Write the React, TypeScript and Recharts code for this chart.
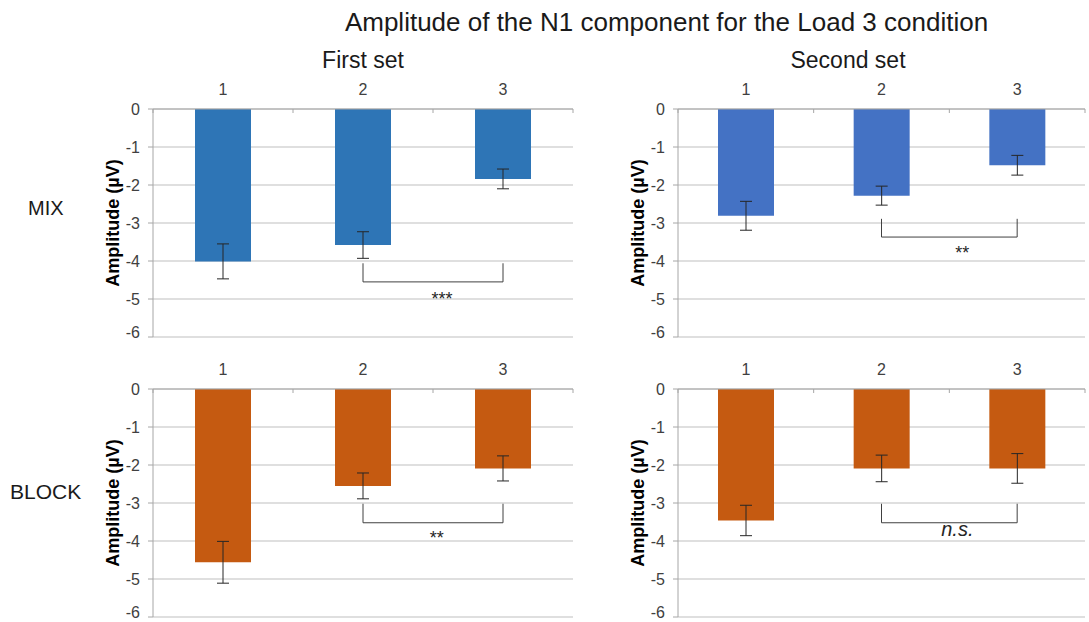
import React from "react";
import {
  BarChart,
  Bar,
  XAxis,
  YAxis,
  CartesianGrid,
  ErrorBar,
  ReferenceLine,
  ReferenceDot,
} from "recharts";

const categories = ["1", "2", "3"];
const yTicks = [0, -1, -2, -3, -4, -5, -6];

const mixFirst = [-4.01, -3.58, -1.84];
const mixFirstErr = [0.46, 0.35, 0.26];
const mixSecond = [-2.81, -2.28, -1.48];
const mixSecondErr = [0.38, 0.25, 0.26];
const blockFirst = [-4.56, -2.55, -2.09];
const blockFirstErr = [0.55, 0.34, 0.33];
const blockSecond = [-3.46, -2.09, -2.09];
const blockSecondErr = [0.4, 0.35, 0.39];

// significance brackets: compared categories, bracket ends (µV), label and where it sits
const mixFirstSig = { from: "2", to: "3", top: -4.06, bottom: -4.55, text: "***", textX: 2.064, textY: -5.0 };
const mixSecondSig = { from: "2", to: "3", top: -2.89, bottom: -3.37, text: "**", textX: 2.096, textY: -3.77 };
const blockFirstSig = { from: "2", to: "3", top: -3.02, bottom: -3.52, text: "**", textX: 2.026, textY: -3.92 };
const blockSecondSig = { from: "2", to: "3", top: -3.02, bottom: -3.52, text: "n.s.", textX: 2.059, textY: -3.68 };

const FONT = '"Liberation Sans", Arial, sans-serif';
const GRID = "#bfbfbf";
const AXIS = "#a6a6a6";

type Sig = typeof mixFirstSig;

const NoLabel = () => <g />;

function Panel({
  values,
  errors,
  color,
  sig,
  left,
  top,
  width,
}: {
  values: number[];
  errors: number[];
  color: string;
  sig: Sig;
  left: number;
  top: number;
  width: number;
}) {
  // pos = numeric centre of each category, used by the boundary tick axis
  const rows = categories.map((c, i) => ({ cat: c, pos: i + 0.5, value: values[i], err: errors[i] }));
  const italic = sig.text === "n.s.";
  return (
    <div style={{ position: "absolute", left, top }}>
      <BarChart width={width} height={266} data={rows} margin={{ top: 4, right: 4, bottom: 4, left: 0 }}>
        <CartesianGrid xAxisId="a" vertical={false} stroke={GRID} />
        <XAxis
          xAxisId="a"
          dataKey="cat"
          orientation="top"
          height={30}
          axisLine={{ stroke: AXIS }}
          tickLine={false}
          tickSize={0}
          tickMargin={14}
          tick={{ fontSize: 16, fill: "#404040", fontFamily: FONT }}
        />
        <XAxis
          xAxisId="b"
          dataKey="pos"
          type="number"
          domain={[0, categories.length]}
          allowDataOverflow
          ticks={categories.map((_, i) => i).concat(categories.length)}
          orientation="top"
          mirror
          tick={NoLabel}
          axisLine={false}
          tickLine={{ stroke: AXIS }}
          tickSize={4}
        />
        <YAxis
          domain={[-6, 0]}
          ticks={yTicks}
          width={53}
          axisLine={{ stroke: AXIS }}
          tickLine={{ stroke: AXIS }}
          tickSize={5}
          tickMargin={8}
          tick={{ fontSize: 16, fill: "#404040", fontFamily: FONT }}
          label={{
            value: "Amplitude (µV)",
            angle: -90,
            position: "insideLeft",
            offset: 13,
            style: { textAnchor: "middle", fontSize: 18, fontWeight: "bold", fill: "#000", fontFamily: FONT },
          }}
        />
        <Bar xAxisId="a" dataKey="value" fill={color} barSize={56} isAnimationActive={false}>
          <ErrorBar dataKey="err" width={6} stroke="#262626" strokeWidth={1} />
        </Bar>
        <ReferenceLine xAxisId="a" segment={[{ x: sig.from, y: sig.top }, { x: sig.from, y: sig.bottom }]} stroke="#404040" />
        <ReferenceLine xAxisId="a" segment={[{ x: sig.to, y: sig.top }, { x: sig.to, y: sig.bottom }]} stroke="#404040" />
        <ReferenceLine xAxisId="a" segment={[{ x: sig.from, y: sig.bottom }, { x: sig.to, y: sig.bottom }]} stroke="#404040" />
        <ReferenceDot
          xAxisId="b"
          x={sig.textX}
          y={sig.textY}
          r={0}
          fill="none"
          stroke="none"
          label={{
            value: sig.text,
            position: "center",
            fontSize: italic ? 20 : 18,
            fontStyle: italic ? "italic" : "normal",
            fill: "#262626",
            fontFamily: FONT,
          }}
        />
      </BarChart>
    </div>
  );
}

const text = (extra: React.CSSProperties): React.CSSProperties => ({
  position: "absolute",
  fontFamily: FONT,
  color: "#1a1a1a",
  whiteSpace: "nowrap",
  lineHeight: 1,
  ...extra,
});

export default function App() {
  return (
    <div style={{ position: "absolute", left: 0, top: 0, width: 1089, height: 622, background: "#fff", overflow: "hidden" }}>
      <div style={text({ left: 0, width: 1333, top: 9, textAlign: "center", fontSize: 26 })}>
        Amplitude of the N1 component for the Load 3 condition
      </div>
      <div style={text({ left: 263, width: 200, top: 49, textAlign: "center", fontSize: 23 })}>First set</div>
      <div style={text({ left: 748, width: 200, top: 49, textAlign: "center", fontSize: 23 })}>Second set</div>
      <div style={text({ left: 28, top: 198, fontSize: 20 })}>MIX</div>
      <div style={text({ left: 10, top: 481, fontSize: 21 })}>BLOCK</div>

      <Panel values={mixFirst} errors={mixFirstErr} color="#2e75b6" sig={mixFirstSig} left={100} top={75} width={477} />
      <Panel values={mixSecond} errors={mixSecondErr} color="#4472c4" sig={mixSecondSig} left={625} top={75} width={464} />
      <Panel values={blockFirst} errors={blockFirstErr} color="#c55a11" sig={blockFirstSig} left={100} top={355} width={477} />
      <Panel values={blockSecond} errors={blockSecondErr} color="#c55a11" sig={blockSecondSig} left={625} top={355} width={464} />
    </div>
  );
}
